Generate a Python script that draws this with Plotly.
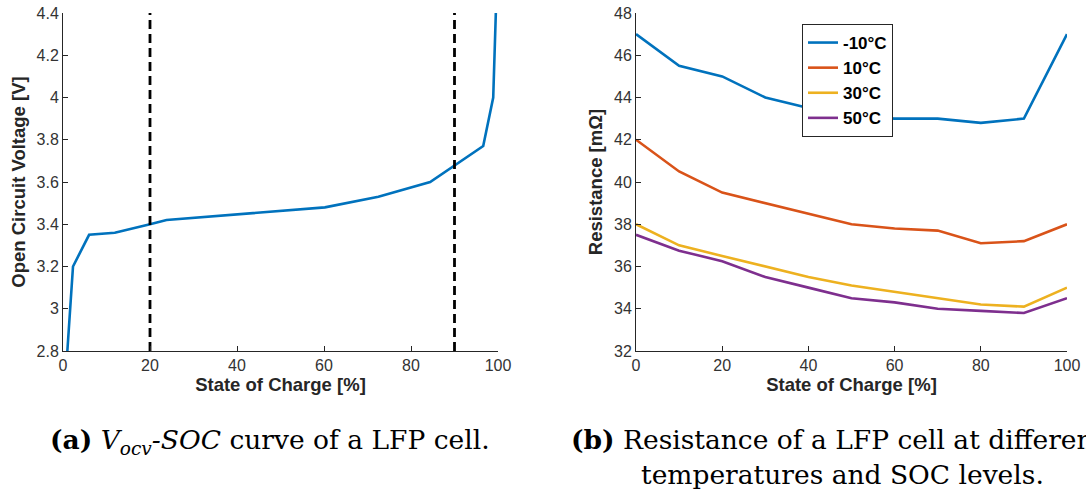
import plotly.graph_objects as go

# ---- Data: left panel (OCV vs SOC) ----
soc_ocv = [1.0, 2.3, 6.0, 11.9, 20.0, 23.8, 60.2, 72.5, 84.4, 96.6, 98.9, 99.5]
ocv = [2.80, 3.20, 3.35, 3.36, 3.40, 3.42, 3.48, 3.53, 3.60, 3.77, 4.00, 4.40]
soc_limits = [20, 90]
ocv_range = [2.8, 4.4]
ocv_ticks = [2.8, 3.0, 3.2, 3.4, 3.6, 3.8, 4.0, 4.2, 4.4]
ocv_ticktext = ["2.8", "3", "3.2", "3.4", "3.6", "3.8", "4", "4.2", "4.4"]

# ---- Data: right panel (Resistance vs SOC) ----
soc = [0, 10, 20, 30, 40, 50, 60, 70, 80, 90, 100]
temps = ["-10°C", "10°C", "30°C", "50°C"]
r_m10 = [47.0, 45.5, 45.0, 44.0, 43.5, 43.1, 43.0, 43.0, 42.8, 43.0, 47.0]
r_10 = [42.0, 40.5, 39.5, 39.0, 38.5, 38.0, 37.8, 37.7, 37.1, 37.2, 38.0]
r_30 = [38.0, 37.0, 36.5, 36.0, 35.5, 35.1, 34.8, 34.5, 34.2, 34.1, 35.0]
r_50 = [37.5, 36.75, 36.25, 35.5, 35.0, 34.5, 34.3, 34.0, 33.9, 33.8, 34.5]
resistances = [r_m10, r_10, r_30, r_50]
colors = ["#0072BD", "#D95319", "#EDB120", "#7E2F8E"]

W, H = 1086, 493

def px_x(p):
    return p / W

def px_y(p):
    return 1 - p / H

fig = go.Figure()

# left panel
fig.add_trace(go.Scatter(x=soc_ocv, y=ocv, mode="lines", line=dict(color="#0072BD", width=2.6),
                         xaxis="x", yaxis="y", showlegend=False))
for s in soc_limits:
    fig.add_trace(go.Scatter(x=[s, s], y=ocv_range, mode="lines",
                             line=dict(color="black", width=2.8, dash="9px,5px"),
                             xaxis="x", yaxis="y", showlegend=False))

# right panel
for name, vals, c in zip(temps, resistances, colors):
    fig.add_trace(go.Scatter(x=soc, y=vals, mode="lines", name=name, legendgroup=name,
                             line=dict(color=c, width=2.6), xaxis="x2", yaxis="y2"))

axis_common = dict(showgrid=False, zeroline=False, showline=True, linecolor="#262626", linewidth=1,
                   ticks="inside", ticklen=5, tickcolor="#262626", mirror=False, automargin=False,
                   tickfont=dict(family="Liberation Sans, Arial, sans-serif", size=16, color="#333333"))
title_font = dict(family="Liberation Sans, Arial, sans-serif", size=18.5, color="#262626", weight="bold")

fig.update_layout(
    width=W, height=H,
    margin=dict(l=0, r=0, t=0, b=0),
    paper_bgcolor="white", plot_bgcolor="white",
    xaxis=dict(domain=[px_x(63), px_x(498)], range=[0, 100], tickvals=[0, 20, 40, 60, 80, 100],
               anchor="y", title=dict(text="State of Charge [%]", font=title_font, standoff=4),
               **axis_common),
    yaxis=dict(domain=[px_y(351), px_y(13)], range=ocv_range, tickvals=ocv_ticks, ticktext=ocv_ticktext,
               anchor="x", title=dict(text="Open Circuit Voltage [V]", font=title_font, standoff=6),
               **axis_common),
    xaxis2=dict(domain=[px_x(636), px_x(1067)], range=[0, 100], tickvals=[0, 20, 40, 60, 80, 100],
                anchor="y2", title=dict(text="State of Charge [%]", font=title_font, standoff=4),
                **axis_common),
    yaxis2=dict(domain=[px_y(351), px_y(13)], range=[32, 48], tickvals=list(range(32, 49, 2)),
                anchor="x2", title=dict(text="Resistance [mΩ]", font=title_font, standoff=6),
                **axis_common),
    legend=dict(x=px_x(802), y=px_y(24), xanchor="left", yanchor="top",
                bgcolor="white", bordercolor="#262626", borderwidth=1,
                font=dict(family="Liberation Sans, Arial, sans-serif", size=17, color="black", weight="bold"),
                tracegroupgap=0, traceorder="grouped"),
    showlegend=True,
)

cap_font = dict(family="DejaVu Serif", size=26.5, color="black")
fig.add_annotation(text="<b>(a)</b> <i>V<sub>ocv</sub>-SOC</i> curve of a LFP cell.",
                   x=px_x(270), y=px_y(441), xref="paper", yref="paper",
                   xanchor="center", yanchor="middle", showarrow=False, font=cap_font)
fig.add_annotation(text="<b>(b)</b> Resistance of a LFP cell at different",
                   x=px_x(569), y=px_y(439), xref="paper", yref="paper",
                   xanchor="left", yanchor="middle", showarrow=False, font=cap_font)
fig.add_annotation(text="temperatures and SOC levels.",
                   x=px_x(842), y=px_y(474), xref="paper", yref="paper",
                   xanchor="center", yanchor="middle", showarrow=False, font=cap_font)

fig.write_html("out.html", config={"displayModeBar": False},
               post_script="document.body.style.margin='0px';")
